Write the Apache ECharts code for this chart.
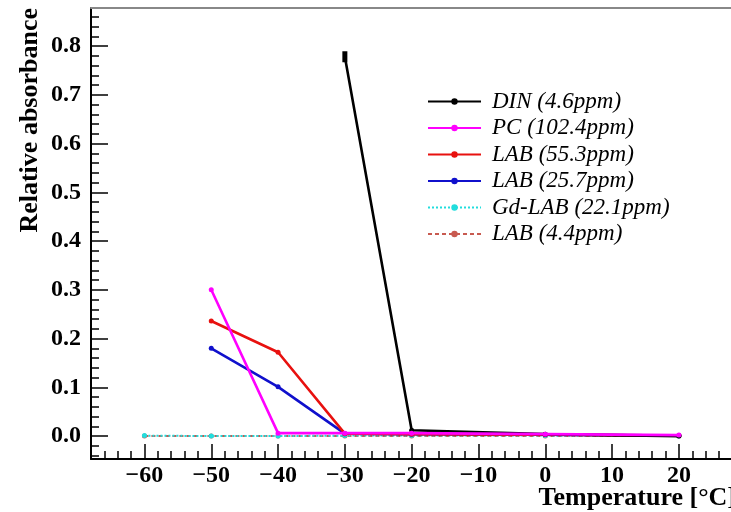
<!DOCTYPE html>
<html>
<head>
<meta charset="utf-8">
<script src="https://cdn.jsdelivr.net/npm/echarts@6/dist/echarts.min.js"></script>
<style>
  html, body { margin: 0; padding: 0; background: #fff; }
  #chart { width: 731px; height: 512px; }
</style>
</head>
<body>
<div id="chart"></div>
<script>
// Measurement temperatures (°C)
const temperatures = [-60, -50, -40, -30, -20, 0, 20];

// Relative absorbance per sample (null = not measured)
const dinValues    = [null, null, null, 0.778, 0.012, 0.004, 0.000];
const pcValues     = [null, 0.300, 0.006, 0.006, 0.006, 0.004, 0.002];
const lab553Values = [null, 0.236, 0.172, 0.005, 0.004, 0.003, 0.001];
const lab257Values = [null, 0.180, 0.101, 0.005, 0.004, 0.003, 0.001];
const gdLabValues  = [0.001, 0.000, 0.000, 0.001, 0.001, 0.001, 0.000];
const lab44Values  = [0.000, 0.000, 0.000, 0.000, 0.000, 0.000, 0.000];

const seriesNames = ['DIN (4.6ppm)', 'PC (102.4ppm)', 'LAB (55.3ppm)', 'LAB (25.7ppm)', 'Gd-LAB (22.1ppm)', 'LAB (4.4ppm)'];

// Axis ticks
const xMajorTicks = [-60, -50, -40, -30, -20, -10, 0, 10, 20];
const yMajorTicks = [0.0, 0.1, 0.2, 0.3, 0.4, 0.5, 0.6, 0.7, 0.8];
const X_MIN = -68, X_MAX = 27.8;
const Y_MIN = -0.047, Y_MAX = 0.878;

const xMinorTicks = [];
for (let v = -66; v <= 26; v += 2) if (v % 10 !== 0) xMinorTicks.push(v);
const yMinorTicks = [];
for (let i = -2; i <= 43; i++) if (i % 5 !== 0) yMinorTicks.push(+(i * 0.02).toFixed(2));

function pairs(values) {
  const out = [];
  values.forEach((v, i) => { if (v !== null) out.push([temperatures[i], v]); });
  return out;
}

const FONT = '"Liberation Serif", "DejaVu Serif", serif';

function lineSeries(name, values, color, type, width, z) {
  return {
    name: name,
    type: 'line',
    data: pairs(values),
    symbol: 'circle',
    symbolSize: 5,
    showSymbol: true,
    z: z,
    itemStyle: { color: color },
    lineStyle: { color: color, width: width, type: type },
    emphasis: { disabled: true },
    animation: false
  };
}

const series = [
  lineSeries(seriesNames[0], dinValues, '#000000', 'solid', 2.6, 5),
  lineSeries(seriesNames[1], pcValues, '#ff00ff', 'solid', 2.6, 6),
  lineSeries(seriesNames[2], lab553Values, '#e8110f', 'solid', 2.6, 4),
  lineSeries(seriesNames[3], lab257Values, '#1010cc', 'solid', 2.6, 3),
  lineSeries(seriesNames[4], gdLabValues, '#22dddd', [2, 2], 2, 2),
  lineSeries(seriesNames[5], lab44Values, '#c85a50', [4, 3], 2, 1)
];
// error bar style marker for the DIN point at -30 °C
series[0].data[0] = { value: series[0].data[0], symbol: 'rect', symbolSize: [5, 11] };

const chart = echarts.init(document.getElementById('chart'), null, { renderer: 'canvas' });

const tickLabelStyle = { fontFamily: FONT, fontWeight: 'bold', fontSize: 24, color: '#000' };

chart.setOption({
  animation: false,
  backgroundColor: '#ffffff',
  grid: { left: 91, right: 0, top: 8, bottom: 53, containLabel: false },
  xAxis: [
    {
      type: 'value', min: X_MIN, max: X_MAX, position: 'bottom',
      axisLine: { show: true, onZero: false, lineStyle: { color: '#000', width: 2 } },
      axisTick: { show: true, inside: true, length: 15, customValues: xMajorTicks, lineStyle: { color: '#000', width: 1.5 } },
      axisLabel: {
        show: true, customValues: xMajorTicks, margin: 5,
        formatter: v => (v < 0 ? '\u2212' + Math.abs(v) : String(v)),
        ...tickLabelStyle
      },
      splitLine: { show: false }
    },
    {
      type: 'value', min: X_MIN, max: X_MAX, position: 'bottom',
      axisLine: { show: false, onZero: false },
      axisTick: { show: true, inside: true, length: 8, customValues: xMinorTicks, lineStyle: { color: '#000', width: 1.5 } },
      axisLabel: { show: false },
      splitLine: { show: false }
    },
    {
      type: 'value', min: X_MIN, max: X_MAX, position: 'top',
      axisLine: { show: true, onZero: false, lineStyle: { color: '#888', width: 2 } },
      axisTick: { show: false }, axisLabel: { show: false }, splitLine: { show: false }
    }
  ],
  yAxis: [
    {
      type: 'value', min: Y_MIN, max: Y_MAX, position: 'left',
      axisLine: { show: true, onZero: false, lineStyle: { color: '#000', width: 2 } },
      axisTick: { show: true, inside: true, length: 17, customValues: yMajorTicks, lineStyle: { color: '#000', width: 1.5 } },
      axisLabel: {
        show: true, customValues: yMajorTicks, margin: 10,
        formatter: v => v.toFixed(1),
        ...tickLabelStyle
      },
      splitLine: { show: false }
    },
    {
      type: 'value', min: Y_MIN, max: Y_MAX, position: 'left',
      axisLine: { show: false, onZero: false },
      axisTick: { show: true, inside: true, length: 8, customValues: yMinorTicks, lineStyle: { color: '#000', width: 1.5 } },
      axisLabel: { show: false },
      splitLine: { show: false }
    }
  ],
  legend: {
    orient: 'vertical',
    left: 427, top: 90, padding: 0,
    itemWidth: 53, itemHeight: 8, itemGap: 3.5,
    data: seriesNames,
    textStyle: { fontFamily: FONT, fontStyle: 'italic', fontSize: 23, color: '#000', padding: [0, 0, 0, 6] },
    selectedMode: false
  },
  graphic: [
    {
      type: 'text', x: 30, y: 8, rotation: Math.PI / 2,
      style: { text: 'Relative absorbance', font: 'bold 26px ' + FONT, fill: '#000', align: 'right', verticalAlign: 'middle' }
    },
    {
      type: 'text', x: 736, y: 498,
      style: { text: 'Temperature [°C]', font: 'bold 26px ' + FONT, fill: '#000', align: 'right', verticalAlign: 'middle' }
    }
  ],
  series: series
});
</script>
</body>
</html>
